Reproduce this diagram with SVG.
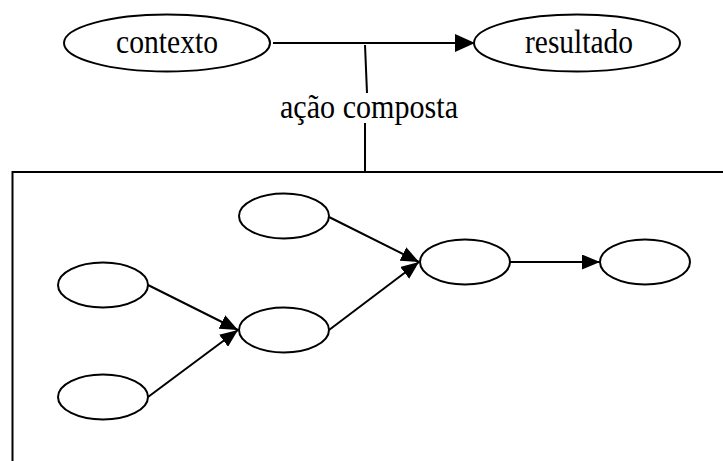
<svg xmlns="http://www.w3.org/2000/svg" width="723" height="461" viewBox="0 0 723 461">
  <style>
    .node ellipse { fill: #ffffff; stroke: #000000; stroke-width: 2; }
    .edge { stroke: #000000; stroke-width: 2; fill: none; }
    .label { font-family: "Liberation Serif", "Times New Roman", serif; font-size: 34px; fill: #000000; }
    .frame { fill: none; stroke: #000000; stroke-width: 2; }
  </style>
  <defs>
    <marker id="arrow-big" markerUnits="userSpaceOnUse" markerWidth="21" markerHeight="18" refX="20" refY="9" orient="auto">
      <path d="M0,0 L20,9 L0,18 Z" fill="#000000"/>
    </marker>
    <marker id="arrow" markerUnits="userSpaceOnUse" markerWidth="19" markerHeight="15" refX="18" refY="7.5" orient="auto">
      <path d="M0,0 L18,7.5 L0,15 Z" fill="#000000"/>
    </marker>
  </defs>

  <rect width="723" height="461" fill="#ffffff"/>

  <!-- composite-action frame -->
  <path class="frame" d="M12.5,172 L723,172 M12.5,171 L12.5,461"/>

  <g id="connectors">
    <line class="edge" x1="273" y1="43" x2="475" y2="43" marker-end="url(#arrow-big)"/>
    <line class="edge" x1="365" y1="45" x2="367" y2="93"/>
    <line class="edge" x1="365" y1="123" x2="365" y2="171"/>
    <line class="edge" x1="148" y1="285" x2="238" y2="330" marker-end="url(#arrow)"/>
    <line class="edge" x1="148" y1="397" x2="238" y2="330" marker-end="url(#arrow)"/>
    <line class="edge" x1="329" y1="217" x2="419" y2="262" marker-end="url(#arrow)"/>
    <line class="edge" x1="329" y1="330" x2="419" y2="262" marker-end="url(#arrow)"/>
    <line class="edge" x1="510" y1="262" x2="600" y2="262" marker-end="url(#arrow)"/>
  </g>

  <g id="label-acao-composta">
    <text class="label" x="280" y="118" textLength="178" lengthAdjust="spacingAndGlyphs">ação composta</text>
  </g>

  <g id="node-contexto" class="node">
    <ellipse cx="167" cy="43" rx="103" ry="28.5"/>
    <text class="label" x="116" y="53" textLength="102" lengthAdjust="spacingAndGlyphs">contexto</text>
  </g>
  <g id="node-resultado" class="node">
    <ellipse cx="577" cy="43" rx="103" ry="28.5"/>
    <text class="label" x="525" y="53" textLength="108" lengthAdjust="spacingAndGlyphs">resultado</text>
  </g>

  <g id="node-a" class="node"><ellipse cx="284" cy="216" rx="45" ry="22.5"/></g>
  <g id="node-b" class="node"><ellipse cx="103" cy="285" rx="45" ry="22.5"/></g>
  <g id="node-c" class="node"><ellipse cx="103" cy="397" rx="45" ry="22.5"/></g>
  <g id="node-d" class="node"><ellipse cx="284" cy="330" rx="45" ry="22.5"/></g>
  <g id="node-e" class="node"><ellipse cx="465" cy="262" rx="45" ry="22.5"/></g>
  <g id="node-f" class="node"><ellipse cx="645" cy="262" rx="45" ry="22.5"/></g>
</svg>
